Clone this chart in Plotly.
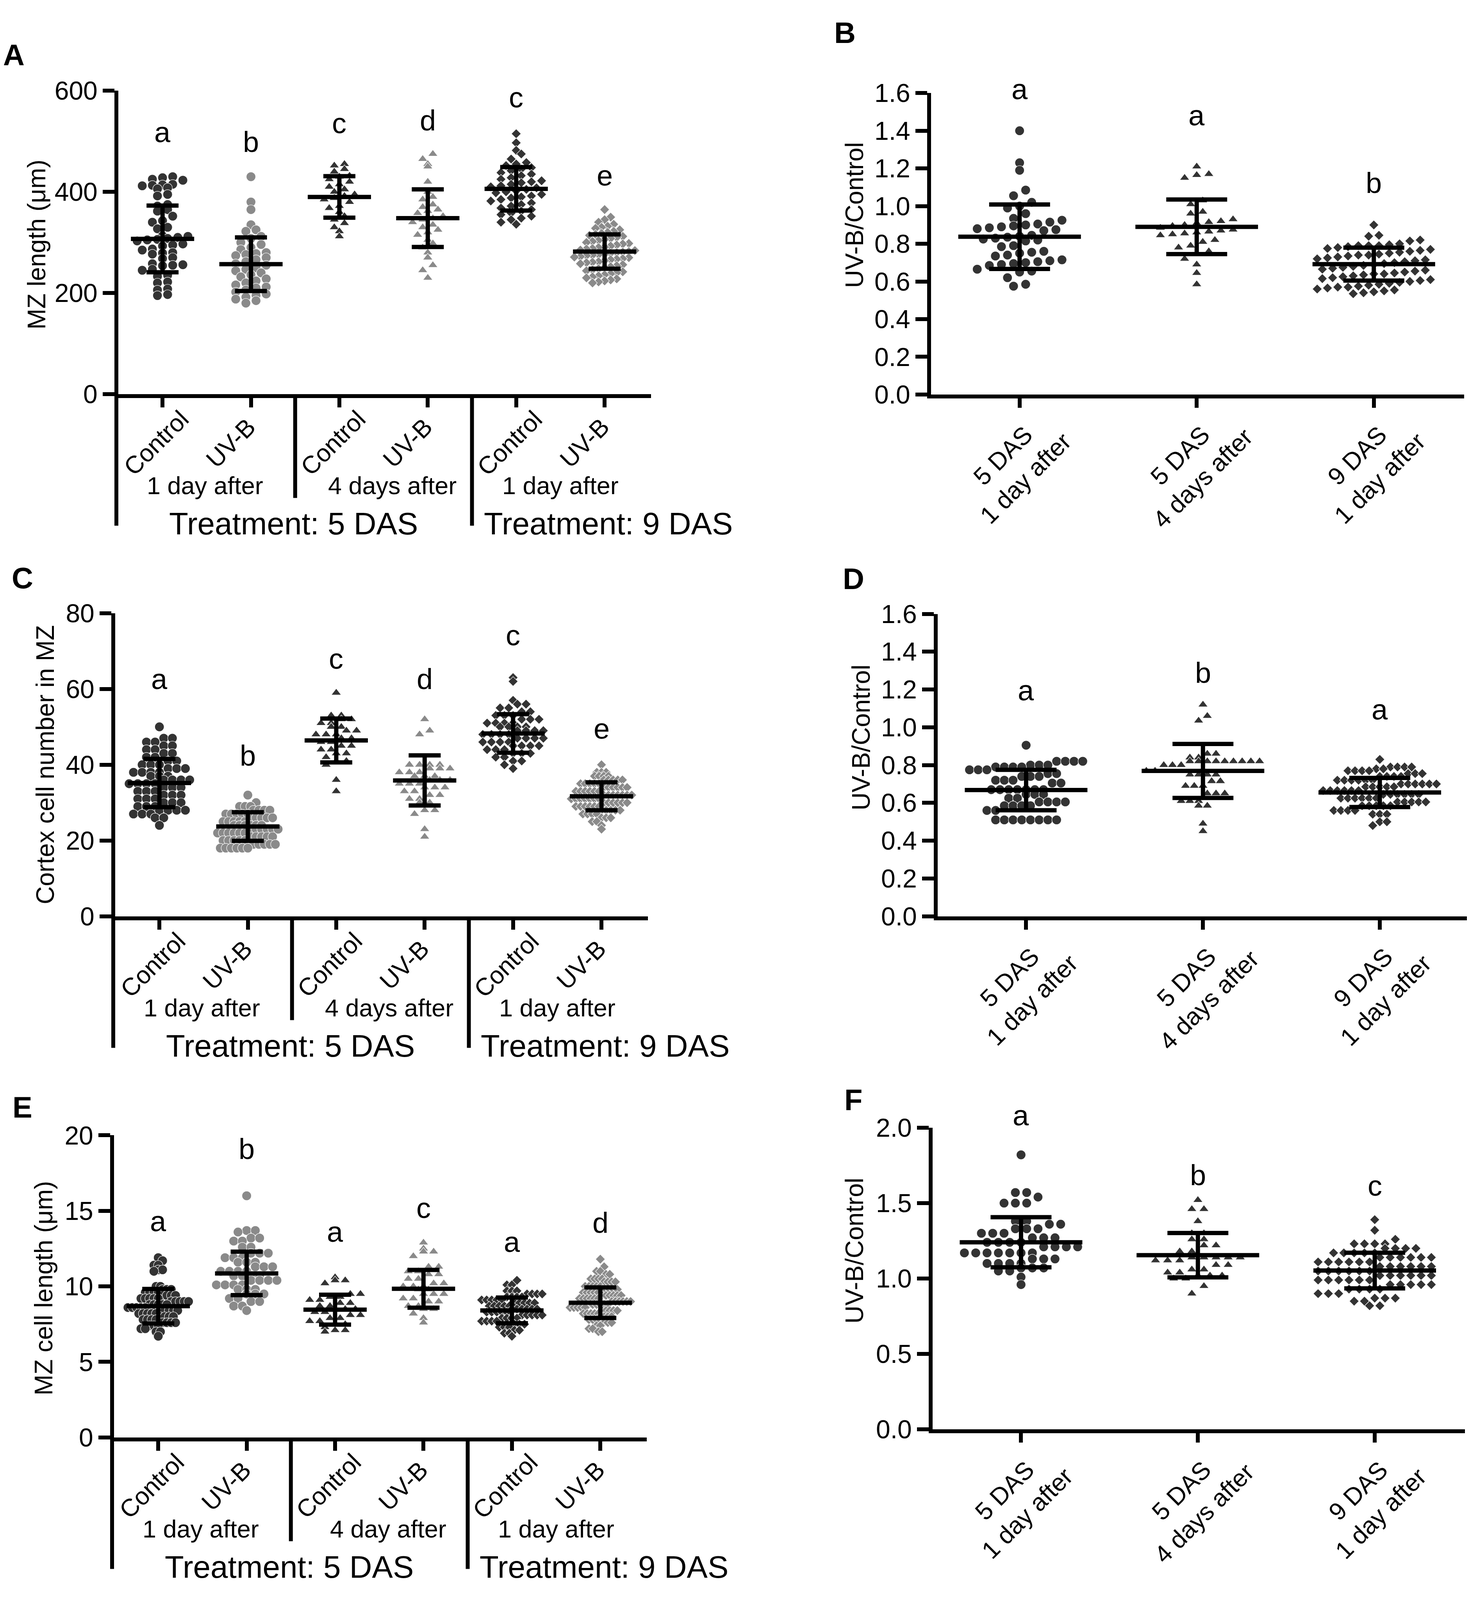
import numpy as np
import plotly.graph_objects as go

# geometry is measured on the 3764 x 4696 reference; the page height that is
# actually visible in the browser is smaller, so the figure is drawn a bit shorter
W, H_REF = 3764, 4696
HF = 4090
FONT = "Liberation Sans, Arial, sans-serif"
DARK = "#333333"
LIGHT = "#8a8a8a"
FS = 0.95  # font scale for the shorter page

# ---------------- data ----------------
groups6 = ["Control", "UV-B", "Control", "UV-B", "Control", "UV-B"]
days_ACE = [["1 day after", "4 days after", "1 day after"],
            ["1 day after", "4 days after", "1 day after"],
            ["1 day after", "4 day after", "1 day after"]]
treatments = ["Treatment: 5 DAS", "Treatment: 9 DAS"]
ratio_labels = ["5 DAS<br>1 day after", "5 DAS<br>4 days after", "9 DAS<br>1 day after"]

# A: MZ length (um)
A_ctrl_1d = [430, 428, 425, 423, 415, 414, 413, 412, 408, 406, 395, 392, 375, 372, 365, 362, 352, 343,
             340, 330, 327, 313, 312, 310, 308, 306, 305, 303, 297, 295, 293, 287, 285, 280, 279, 277,
             270, 268, 258, 256, 255, 254, 247, 245, 235, 233, 222, 220, 208, 206, 197, 195]
A_uvb_1d = [430, 380, 365, 335, 325, 322, 312, 308, 300, 296, 290, 286, 280, 278, 276, 274, 270, 266,
            262, 258, 255, 250, 247, 244, 240, 236, 232, 228, 224, 220, 216, 212, 210, 206, 202, 198,
            195, 192, 188, 185, 180]
A_ctrl_4d = [455, 452, 445, 440, 432, 430, 425, 420, 415, 410, 405, 400, 395, 392, 388, 385, 380, 372,
             368, 360, 352, 345, 338, 330, 322, 312]
A_uvb_4d = [475, 465, 455, 450, 420, 400, 390, 385, 375, 370, 365, 362, 358, 352, 348, 345, 340, 335,
            330, 325, 320, 315, 305, 298, 290, 280, 270, 255, 245, 230]
A_ctrl_9 = [515, 497, 482, 475, 465, 458, 455, 452, 448, 445, 442, 438, 435, 432, 428, 425, 422, 420,
            418, 415, 412, 410, 408, 405, 402, 400, 398, 395, 392, 390, 388, 385, 382, 378, 375, 372,
            368, 365, 362, 358, 355, 352, 348, 345, 340, 336]
A_uvb_9 = [365, 350, 345, 340, 336, 332, 330, 328, 325, 322, 320, 318, 316, 314, 312, 310, 308, 306,
           304, 302, 300, 298, 297, 295, 293, 291, 290, 288, 287, 285, 284, 282, 281, 280, 279, 277,
           276, 275, 274, 272, 271, 270, 268, 267, 266, 264, 262, 261, 260, 258, 256, 254, 252, 250,
           248, 246, 244, 242, 240, 238, 236, 234, 232, 230, 228, 226, 224, 222, 220]
A_mean = [307, 257, 390, 348, 406, 282]
A_sd = [66, 53, 41, 57, 43, 34]
A_letters = ["a", "b", "c", "d", "c", "e"]
A_letter_y = [518, 499, 536, 541, 587, 432]

# B: ratio of MZ length
B_1d5 = [1.40, 1.23, 1.19, 1.085, 1.055, 1.02, 1.00, 0.99, 0.96, 0.935, 0.925, 0.915, 0.905, 0.90,
         0.895, 0.89, 0.885, 0.88, 0.875, 0.87, 0.845, 0.84, 0.835, 0.83, 0.825, 0.82, 0.815, 0.79,
         0.785, 0.76, 0.755, 0.75, 0.74, 0.735, 0.715, 0.71, 0.705, 0.70, 0.695, 0.69, 0.685, 0.665,
         0.655, 0.65, 0.62, 0.585, 0.575]
B_4d5 = [1.21, 1.17, 1.165, 1.15, 1.03, 1.01, 0.97, 0.96, 0.93, 0.92, 0.915, 0.91, 0.90, 0.895, 0.885,
         0.875, 0.87, 0.865, 0.86, 0.855, 0.85, 0.845, 0.82, 0.81, 0.79, 0.78, 0.76, 0.75, 0.72, 0.69,
         0.645, 0.585]
B_1d9 = [0.90, 0.845, 0.84, 0.82, 0.815, 0.80, 0.795, 0.79, 0.79, 0.79, 0.785, 0.78, 0.775, 0.77,
         0.765, 0.76, 0.755, 0.75, 0.745, 0.74, 0.74, 0.735, 0.73, 0.725, 0.72, 0.715, 0.71, 0.705,
         0.70, 0.695, 0.69, 0.685, 0.68, 0.675, 0.67, 0.665, 0.66, 0.655, 0.65, 0.645, 0.64, 0.64,
         0.635, 0.63, 0.625, 0.62, 0.615, 0.61, 0.605, 0.60, 0.595, 0.59, 0.585, 0.58, 0.575, 0.57,
         0.57, 0.565, 0.56, 0.555, 0.55, 0.545, 0.54, 0.535]
B_mean = [0.8375, 0.890, 0.692]
B_sd = [0.171, 0.145, 0.0875]
B_letters = ["a", "a", "b"]
B_letter_y = [1.621, 1.482, 1.122]

# C: cortex cell number in MZ
C_ctrl_1d = [50, 47, 47, 46, 46, 45, 45, 44, 44, 43, 43, 42, 42, 41, 41, 40, 40, 40, 39, 39, 39,
             38, 38, 38, 38, 37, 37, 37, 36, 36, 36, 36, 35, 35, 35, 35, 34, 34, 34, 33, 33, 33,
             32, 32, 32, 31, 31, 31, 30, 30, 30, 29, 29, 29, 28, 28, 28, 28, 27, 27, 27, 26, 26, 24]
C_uvb_1d = [32, 30, 29, 29, 29, 28, 28, 28, 28, 27, 27, 27, 27, 27, 26, 26, 26, 26, 26, 25, 25, 25,
            25, 25, 24, 24, 24, 24, 24, 24, 23, 23, 23, 23, 23, 23, 22, 22, 22, 22, 22, 22, 21, 21,
            21, 21, 21, 20, 20, 20, 20, 20, 19, 19, 19, 19, 19, 18, 18, 18, 18, 18, 18]
C_ctrl_4d = [59, 53, 53, 52, 52, 51, 51, 50, 50, 49, 49, 48, 48, 48, 47, 47, 46, 46, 45, 45, 44, 44,
             43, 43, 42, 41, 41, 40, 36, 33]
C_uvb_4d = [52, 49, 48, 40, 40, 40, 40, 39, 39, 39, 38, 38, 38, 37, 37, 37, 36, 36, 36, 35, 35, 35,
            34, 34, 34, 33, 33, 32, 32, 31, 31, 30, 30, 28, 28, 27, 23, 21]
C_ctrl_9 = [63, 62, 57, 56, 56, 55, 55, 54, 54, 53, 53, 53, 52, 52, 52, 51, 51, 51, 51, 50, 50, 50,
            50, 49, 49, 49, 49, 48, 48, 48, 48, 47, 47, 47, 47, 46, 46, 46, 46, 45, 45, 45, 45, 44,
            44, 44, 43, 43, 43, 42, 42, 41, 41, 40, 39]
C_uvb_9 = [40, 38, 38, 38, 37, 37, 37, 37, 36, 36, 36, 36, 36, 35, 35, 35, 35, 35, 34, 34, 34, 34,
           34, 34, 33, 33, 33, 33, 33, 33, 32, 32, 32, 32, 32, 32, 32, 31, 31, 31, 31, 31, 31, 31,
           30, 30, 30, 30, 30, 30, 29, 29, 29, 29, 29, 29, 28, 28, 28, 28, 28, 27, 27, 27, 27, 26,
           26, 26, 25, 25, 24, 23]
C_mean = [35.18, 23.70, 46.41, 35.86, 48.26, 31.67]
C_sd = [6.37, 3.77, 5.78, 6.62, 5.08, 3.68]
C_letters = ["a", "b", "c", "d", "c", "e"]
C_letter_y = [62.6, 42.4, 68.0, 62.6, 74.2, 49.5]

# D: ratio of cortex cell number
D_1d5 = [0.905, 0.82, 0.82, 0.82, 0.82, 0.80, 0.80, 0.80, 0.79, 0.79, 0.79, 0.79, 0.775, 0.775,
         0.775, 0.755, 0.755, 0.74, 0.74, 0.74, 0.72, 0.72, 0.72, 0.705, 0.705, 0.67, 0.67, 0.67,
         0.67, 0.67, 0.67, 0.67, 0.645, 0.645, 0.645, 0.625, 0.625, 0.605, 0.605, 0.605, 0.605,
         0.585, 0.585, 0.585, 0.585, 0.56, 0.56, 0.51, 0.51, 0.51, 0.51, 0.51, 0.51, 0.51, 0.51]
D_4d5 = [1.12, 1.06, 1.035, 0.86, 0.86, 0.84, 0.84, 0.82, 0.82, 0.82, 0.82, 0.82, 0.82, 0.82, 0.82,
         0.82, 0.80, 0.80, 0.80, 0.77, 0.77, 0.75, 0.75, 0.75, 0.75, 0.715, 0.715, 0.69, 0.69, 0.69,
         0.65, 0.65, 0.65, 0.61, 0.61, 0.61, 0.585, 0.585, 0.49, 0.45]
D_1d9 = [0.83, 0.79, 0.79, 0.79, 0.79, 0.78, 0.78, 0.77, 0.77, 0.77, 0.77, 0.755, 0.755, 0.755,
         0.74, 0.74, 0.74, 0.74, 0.72, 0.72, 0.72, 0.72, 0.72, 0.72, 0.70, 0.70, 0.70, 0.70, 0.70,
         0.70, 0.685, 0.685, 0.685, 0.685, 0.685, 0.665, 0.665, 0.665, 0.665, 0.665, 0.665, 0.645,
         0.645, 0.645, 0.645, 0.645, 0.645, 0.625, 0.625, 0.625, 0.625, 0.625, 0.625, 0.605, 0.605,
         0.605, 0.605, 0.605, 0.585, 0.585, 0.585, 0.585, 0.585, 0.56, 0.56, 0.56, 0.56, 0.54, 0.54,
         0.54, 0.50, 0.50, 0.48]
D_mean = [0.668, 0.769, 0.655]
D_sd = [0.107, 0.143, 0.077]
D_letters = ["a", "b", "a"]
D_letter_y = [1.194, 1.287, 1.094]

# E: MZ cell length (um)
E_ctrl_1d = [11.9, 11.7, 11.4, 11.4, 11.1, 11.1, 11.0, 10.0, 10.0, 9.8, 9.8, 9.8, 9.6, 9.6, 9.6, 9.6,
             9.4, 9.4, 9.4, 9.4, 9.2, 9.2, 9.2, 9.2, 9.2, 9.0, 9.0, 9.0, 9.0, 9.0, 8.8, 8.8, 8.8, 8.8,
             8.8, 8.6, 8.6, 8.6, 8.6, 8.6, 8.4, 8.4, 8.4, 8.4, 8.4, 8.2, 8.2, 8.2, 8.2, 8.2, 8.0, 8.0,
             8.0, 8.0, 7.8, 7.8, 7.8, 7.8, 7.6, 7.6, 7.6, 7.6, 7.4, 7.4, 7.4, 7.2, 7.2, 7.0, 7.0, 6.7]
E_uvb_1d = [16.0, 13.7, 13.7, 13.6, 13.2, 13.2, 13.0, 13.0, 12.6, 12.6, 12.2, 12.2, 12.2, 11.9, 11.9,
            11.9, 11.6, 11.6, 11.6, 11.3, 11.3, 11.3, 11.0, 11.0, 11.0, 11.0, 10.7, 10.7, 10.7, 10.7,
            10.4, 10.4, 10.4, 10.4, 10.1, 10.1, 10.1, 10.1, 9.8, 9.8, 9.8, 9.5, 9.5, 9.5, 9.2, 9.2,
            9.0, 9.0, 8.7, 8.7, 8.4]
E_ctrl_4d = [10.6, 10.4, 10.4, 10.2, 9.5, 9.5, 9.3, 9.3, 9.1, 9.1, 8.9, 8.9, 8.7, 8.7, 8.5, 8.5, 8.5,
             8.3, 8.3, 8.1, 8.1, 7.9, 7.9, 7.7, 7.7, 7.5, 7.5, 7.3, 7.1, 7.1, 7.0]
E_uvb_4d = [12.9, 12.5, 12.3, 12.3, 12.0, 11.3, 11.3, 11.0, 11.0, 10.8, 10.8, 10.5, 10.5, 10.2, 10.2,
            10.0, 10.0, 10.0, 9.8, 9.8, 9.5, 9.5, 9.5, 9.2, 9.2, 9.0, 9.0, 8.7, 8.7, 8.5, 8.5, 8.2,
            7.9, 7.6]
E_ctrl_9 = [10.4, 10.1, 10.1, 9.7, 9.7, 9.7, 9.5, 9.5, 9.5, 9.5, 9.3, 9.3, 9.3, 9.3, 9.1, 9.1, 9.1,
            9.1, 9.1, 8.9, 8.9, 8.9, 8.9, 8.9, 8.7, 8.7, 8.7, 8.7, 8.7, 8.5, 8.5, 8.5, 8.5, 8.5, 8.5,
            8.3, 8.3, 8.3, 8.3, 8.3, 8.1, 8.1, 8.1, 8.1, 8.1, 7.9, 7.9, 7.9, 7.9, 7.7, 7.7, 7.7, 7.7,
            7.5, 7.5, 7.5, 7.3, 7.3, 7.3, 7.1, 7.1, 6.9, 6.9, 6.7]
E_uvb_9 = [11.8, 11.3, 11.0, 11.0, 10.8, 10.8, 10.5, 10.5, 10.5, 10.5, 10.3, 10.3, 10.3, 10.3, 10.0,
           10.0, 10.0, 10.0, 10.0, 9.8, 9.8, 9.8, 9.8, 9.8, 9.6, 9.6, 9.6, 9.6, 9.6, 9.4, 9.4, 9.4,
           9.4, 9.4, 9.4, 9.2, 9.2, 9.2, 9.2, 9.2, 9.2, 9.0, 9.0, 9.0, 9.0, 9.0, 9.0, 8.8, 8.8, 8.8,
           8.8, 8.8, 8.8, 8.6, 8.6, 8.6, 8.6, 8.6, 8.4, 8.4, 8.4, 8.4, 8.4, 8.2, 8.2, 8.2, 8.2, 8.2,
           8.0, 8.0, 8.0, 8.0, 7.8, 7.8, 7.8, 7.6, 7.6, 7.6, 7.4, 7.4, 7.2, 7.2, 7.0, 7.0]
E_mean = [8.69, 10.86, 8.46, 9.84, 8.41, 8.92]
E_sd = [1.14, 1.44, 0.99, 1.25, 0.85, 1.01]
E_letters = ["a", "b", "a", "c", "a", "d"]
E_letter_y = [14.3, 19.1, 13.6, 15.2, 12.95, 14.2]

# F: ratio of MZ cell length
F_1d5 = [1.82, 1.57, 1.57, 1.54, 1.50, 1.50, 1.50, 1.38, 1.38, 1.36, 1.36, 1.33, 1.33, 1.33, 1.30,
         1.30, 1.30, 1.27, 1.27, 1.27, 1.24, 1.24, 1.24, 1.24, 1.21, 1.21, 1.21, 1.21, 1.17, 1.17,
         1.17, 1.17, 1.17, 1.17, 1.17, 1.13, 1.13, 1.13, 1.10, 1.10, 1.10, 1.10, 1.07, 1.07, 1.07,
         1.05, 1.05, 1.01, 0.96]
F_4d5 = [1.52, 1.46, 1.46, 1.38, 1.30, 1.30, 1.26, 1.26, 1.22, 1.22, 1.18, 1.18, 1.14, 1.14, 1.14,
         1.14, 1.14, 1.12, 1.12, 1.12, 1.09, 1.09, 1.06, 1.06, 1.04, 1.04, 1.02, 1.02, 1.02, 1.00,
         1.00, 0.95, 0.90]
F_1d9 = [1.39, 1.32, 1.26, 1.23, 1.23, 1.23, 1.23, 1.20, 1.20, 1.20, 1.20, 1.17, 1.17, 1.17, 1.17,
         1.17, 1.14, 1.14, 1.14, 1.14, 1.14, 1.14, 1.11, 1.11, 1.11, 1.11, 1.11, 1.11, 1.08, 1.08,
         1.08, 1.08, 1.08, 1.08, 1.05, 1.05, 1.05, 1.05, 1.05, 1.05, 1.02, 1.02, 1.02, 1.02, 1.02,
         1.02, 0.99, 0.99, 0.99, 0.99, 0.99, 0.99, 0.96, 0.96, 0.96, 0.96, 0.96, 0.93, 0.93, 0.93,
         0.93, 0.90, 0.90, 0.90, 0.87, 0.87, 0.87, 0.85, 0.85, 0.82, 0.82]
F_mean = [1.2405, 1.155, 1.053]
F_sd = [0.166, 0.147, 0.118]
F_letters = ["a", "b", "c"]
F_letter_y = [2.081, 1.685, 1.615]

# ---------------- panel set-up (pixel geometry of the reference page) ----------------
panels = [
    dict(tag="A", kind="groups", data=[A_ctrl_1d, A_uvb_1d, A_ctrl_4d, A_uvb_4d, A_ctrl_9, A_uvb_9],
         mean=A_mean, sd=A_sd, letters=A_letters, letter_y=A_letter_y, yr=[0, 600],
         yt=[0, 200, 400, 600], fmt="{:.0f}", ytitle="MZ length (\u03bcm)", days=days_ACE[0],
         left=290, right=1659, top=219, bottom=1133, tag_xy=(27, 112), title_xy=(86, 680)),
    dict(tag="B", kind="ratio", data=[B_1d5, B_4d5, B_1d9], mean=B_mean, sd=B_sd,
         letters=B_letters, letter_y=B_letter_y, yr=[0, 1.6],
         yt=[0, 0.2, 0.4, 0.6, 0.8, 1.0, 1.2, 1.4, 1.6], fmt="{:.1f}", ytitle="UV-B/Control",
         left=2371, right=3741, top=226, bottom=1134, tag_xy=(2155, 45), title_xy=(2180, 592)),
    dict(tag="C", kind="groups", data=[C_ctrl_1d, C_uvb_1d, C_ctrl_4d, C_uvb_4d, C_ctrl_9, C_uvb_9],
         mean=C_mean, sd=C_sd, letters=C_letters, letter_y=C_letter_y, yr=[0, 80],
         yt=[0, 20, 40, 60, 80], fmt="{:.0f}", ytitle="Cortex cell number in MZ", days=days_ACE[1],
         left=282, right=1651, top=1783, bottom=2696, tag_xy=(49, 1677), title_xy=(108, 2237)),
    dict(tag="D", kind="ratio", data=[D_1d5, D_4d5, D_1d9], mean=D_mean, sd=D_sd,
         letters=D_letters, letter_y=D_letter_y, yr=[0, 1.6],
         yt=[0, 0.2, 0.4, 0.6, 0.8, 1.0, 1.2, 1.4, 1.6], fmt="{:.1f}", ytitle="UV-B/Control",
         left=2388, right=3756, top=1785, bottom=2696, tag_xy=(2177, 1680), title_xy=(2197, 2156)),
    dict(tag="E", kind="groups", data=[E_ctrl_1d, E_uvb_1d, E_ctrl_4d, E_uvb_4d, E_ctrl_9, E_uvb_9],
         mean=E_mean, sd=E_sd, letters=E_letters, letter_y=E_letter_y, yr=[0, 20],
         yt=[0, 5, 10, 15, 20], fmt="{:.0f}", ytitle="MZ cell length (\u03bcm)", days=days_ACE[2],
         left=279, right=1648, top=3346, bottom=4256, tag_xy=(49, 3262), title_xy=(104, 3804)),
    dict(tag="F", kind="ratio", data=[F_1d5, F_4d5, F_1d9], mean=F_mean, sd=F_sd,
         letters=F_letters, letter_y=F_letter_y, yr=[0, 2.0],
         yt=[0, 0.5, 1.0, 1.5, 2.0], fmt="{:.1f}", ytitle="UV-B/Control",
         left=2375, right=3743, top=3323, bottom=4232, tag_xy=(2177, 3240), title_xy=(2180, 3692)),
]

KY = HF / H_REF  # vertical page scale


def px_x(p):
    return p / W


def px_y(p):
    return 1 - p / H_REF


def dot_offsets(vals, ppu_y, row_h, dx, wmax):
    """Prism-like scatter: points binned in rows, spread side by side in each row (pixels)."""
    v = np.asarray(vals, float)
    rows = np.round(v * ppu_y / row_h).astype(int)
    out = np.zeros(len(v))
    nmax = max(np.sum(rows == r) for r in set(rows))
    step = dx if nmax <= 1 else min(dx, wmax / (nmax - 1))
    for r in set(rows):
        idx = np.where(rows == r)[0]
        idx = idx[np.argsort(v[idx], kind="stable")]
        n = len(idx)
        out[idx] = (np.arange(n) - (n - 1) / 2) * step
    return out


fig = go.Figure()
annotations = []
shapes = []
LW = 10
TXT = dict(family=FONT, color="black")


def fsz(s):
    return round(s * FS)


for k, p in enumerate(panels, start=1):
    xa = "x" if k == 1 else f"x{k}"
    ya = "y" if k == 1 else f"y{k}"
    ngr = len(p["data"])
    xr = [-0.5, 5.525] if p["kind"] == "groups" else [-0.5, 2.51]
    x0px = p["left"] + LW / 2
    y1px = p["bottom"] - LW / 2 / KY
    ppu_x = (p["right"] - x0px) / (xr[1] - xr[0])
    ppu_y = (y1px - p["top"]) / (p["yr"][1] - p["yr"][0])

    if p["kind"] == "groups":
        symbols = ["circle", "circle", "triangle-up", "triangle-up", "diamond", "diamond"]
        colors = [DARK, LIGHT] * 3
        row_h, dx, wmax = 21, 26, 155
        mean_half, cap_half = 81, 41
    else:
        symbols = ["circle", "triangle-up", "diamond"]
        colors = [DARK] * 3
        row_h, dx, wmax = 30, 31, 290
        mean_half, cap_half = 157, 78
    sizes = {"circle": 24, "triangle-up": 22, "diamond": 19}

    for i, vals in enumerate(p["data"]):
        off = dot_offsets(vals, ppu_y, row_h, dx, wmax) / ppu_x
        fig.add_trace(go.Scatter(
            x=i + off, y=vals, mode="markers", xaxis=xa, yaxis=ya, showlegend=False,
            cliponaxis=False, hoverinfo="skip",
            marker=dict(symbol=symbols[i], size=sizes[symbols[i]], color=colors[i],
                        line=dict(color="white", width=1.2))))

    # mean +/- SD
    ex, ey = [], []
    mh, ch = mean_half / ppu_x, cap_half / ppu_x
    for i, (m, s) in enumerate(zip(p["mean"], p["sd"])):
        ex += [i - mh, i + mh, None, i, i, None, i - ch, i + ch, None, i - ch, i + ch, None]
        ey += [m, m, None, m - s, m + s, None, m + s, m + s, None, m - s, m - s, None]
    fig.add_trace(go.Scatter(x=ex, y=ey, mode="lines", xaxis=xa, yaxis=ya, showlegend=False,
                             cliponaxis=False, hoverinfo="skip",
                             line=dict(color="black", width=11)))

    fig.layout[f"xaxis{k}" if k > 1 else "xaxis"] = dict(
        domain=[px_x(x0px), px_x(p["right"])], range=xr, anchor=ya,
        tickvals=list(range(ngr)), showticklabels=False, ticks="outside", ticklen=round(28 * KY),
        tickwidth=LW, tickcolor="black", showline=True, linewidth=LW, linecolor="black",
        showgrid=False, zeroline=False, fixedrange=True)
    fig.layout[f"yaxis{k}" if k > 1 else "yaxis"] = dict(
        domain=[px_y(y1px), px_y(p["top"])], range=p["yr"], anchor=xa,
        tickvals=p["yt"], ticktext=[p["fmt"].format(t) for t in p["yt"]],
        tickfont=dict(TXT, size=fsz(70)), ticks="outside", ticklen=30,
        tickwidth=LW, tickcolor="black", showline=True, linewidth=LW, linecolor="black",
        showgrid=False, zeroline=False, fixedrange=True)

    # panel tag and y title
    annotations.append(dict(text=f"<b>{p['tag']}</b>", x=px_x(p["tag_xy"][0]), y=px_y(p["tag_xy"][1]),
                            xref="paper", yref="paper", showarrow=False, xanchor="center",
                            yanchor="middle", font=dict(TXT, size=fsz(80))))
    annotations.append(dict(text=p["ytitle"], x=px_x(p["title_xy"][0]), y=px_y(p["title_xy"][1]),
                            xref="paper", yref="paper", showarrow=False, textangle=-90,
                            xanchor="center", yanchor="middle", font=dict(TXT, size=fsz(67))))
    # significance letters (paper y so they may sit above the axis top)
    for i, (lt, ly) in enumerate(zip(p["letters"], p["letter_y"])):
        ypx = y1px - (ly - p["yr"][0]) * ppu_y
        annotations.append(dict(text=lt, x=i, y=px_y(ypx), xref=xa, yref="paper", showarrow=False,
                                xanchor="center", yanchor="middle", font=dict(TXT, size=fsz(78))))

    axis_px = p["bottom"]
    if p["kind"] == "groups":
        for i, g in enumerate(groups6):
            dxl = -0.075 if g == "Control" else -0.23
            annotations.append(dict(text=g, x=i + dxl, y=px_y(axis_px + 140), xref=xa, yref="paper",
                                    showarrow=False, textangle=-45, xanchor="center",
                                    yanchor="middle", font=dict(TXT, size=fsz(66))))
        for xd, lab in zip([0.48, 2.6, 4.5], p["days"]):
            annotations.append(dict(text=lab, x=xd, y=px_y(axis_px + 268), xref=xa, yref="paper",
                                    showarrow=False, xanchor="center", yanchor="middle",
                                    font=dict(TXT, size=fsz(66))))
        for xd, lab in zip([1.48, 5.04], treatments):
            annotations.append(dict(text=lab, x=xd, y=px_y(axis_px + 382), xref=xa, yref="paper",
                                    showarrow=False, xanchor="center", yanchor="middle",
                                    font=dict(TXT, size=fsz(84))))
        # bracket lines below the axis
        shapes.append(dict(type="line", xref="paper", yref="paper", x0=px_x(p["left"]),
                           x1=px_x(p["left"]), y0=px_y(axis_px), y1=px_y(axis_px + 388),
                           line=dict(color="black", width=LW)))
        shapes.append(dict(type="line", xref=xa, yref="paper", x0=1.5, x1=1.5,
                           y0=px_y(axis_px), y1=px_y(axis_px + 305),
                           line=dict(color="black", width=LW)))
        shapes.append(dict(type="line", xref=xa, yref="paper", x0=3.5, x1=3.5,
                           y0=px_y(axis_px), y1=px_y(axis_px + 388),
                           line=dict(color="black", width=LW)))
    else:
        for i, lab in enumerate(ratio_labels):
            annotations.append(dict(text=lab, x=i - 0.03, y=px_y(axis_px + 211), xref=xa,
                                    yref="paper", showarrow=False, textangle=-45,
                                    xanchor="center", yanchor="middle", font=dict(TXT, size=fsz(66))))

fig.update_layout(width=W, height=HF, margin=dict(l=0, r=0, t=0, b=0), autosize=False,
                  paper_bgcolor="white", plot_bgcolor="white", annotations=annotations,
                  shapes=shapes, font=TXT)

fig.write_html("out.html")
